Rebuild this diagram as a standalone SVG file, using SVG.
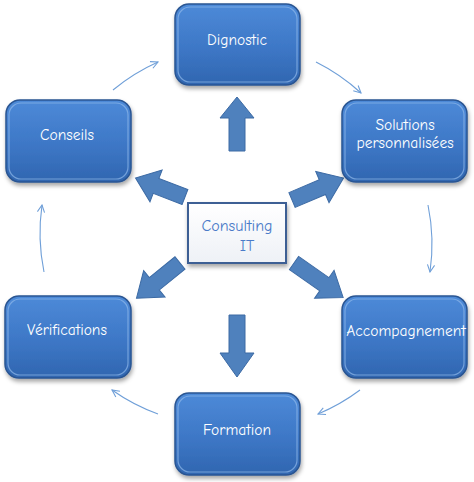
<svg xmlns="http://www.w3.org/2000/svg" width="474" height="482" viewBox="0 0 474 482">
<defs>
<linearGradient id="g" x1="0" y1="0" x2="0" y2="1">
<stop offset="0" stop-color="#4d8ad8"/>
<stop offset="0.55" stop-color="#3d77c6"/>
<stop offset="1" stop-color="#3066b0"/>
</linearGradient>
<linearGradient id="w" x1="0" y1="0" x2="0" y2="1">
<stop offset="0" stop-color="#ffffff"/>
<stop offset="1" stop-color="#eef1f6"/>
</linearGradient>
<filter id="sh" x="-10%" y="-10%" width="125%" height="130%">
<feDropShadow dx="1" dy="3" stdDeviation="2" flood-color="#000" flood-opacity="0.35"/>
</filter>
<marker id="ah" viewBox="0 0 10 10" refX="9" refY="5" markerWidth="9" markerHeight="9" orient="auto" markerUnits="userSpaceOnUse">
<path d="M1,1 L9,5 L1,9" fill="none" stroke="#6f9fd8" stroke-width="1.2"/>
</marker>
</defs>
<style>
.n rect{fill:url(#g);stroke:#2a5592;stroke-width:1.5;filter:url(#sh)}
.n .hl{fill:none;stroke:#8fb8ea;stroke-width:1.2;stroke-opacity:0.7;filter:none}
.n text{fill:#fff;font-family:"Comic Sans MS","Comic Neue","DejaVu Sans",sans-serif;font-size:15.5px;text-anchor:middle}
.c{fill:none;stroke:#6f9fd8;stroke-width:1.1;marker-end:url(#ah)}
.b{fill:#4f81bd;stroke:#3c6aa4;stroke-width:1}
.ct{font-family:"Comic Sans MS","Comic Neue","DejaVu Sans",sans-serif;font-size:16px;fill:#4a7bc8;text-anchor:middle}
</style>
<g id="connectors">
<path class="c" d="M113,90 A195,195 0 0 1 158,62"/>
<path class="c" d="M316,62 A195,195 0 0 1 361,93"/>
<path class="c" d="M428,205 A195,195 0 0 1 430,272"/>
<path class="c" d="M360,390 A195,195 0 0 1 318,414"/>
<path class="c" d="M158,414 A195,195 0 0 1 112,390"/>
<path class="c" d="M44,272 A195,195 0 0 1 42,205"/>
<path class="b" transform="translate(237,151) rotate(-90)" d="M0,-8 L33,-8 L33,-17 L54,0 L33,17 L33,8 L0,8 Z"/>
<path class="b" transform="translate(237,315) rotate(90)" d="M0,-8 L38,-8 L38,-17 L62,0 L38,17 L38,8 L0,8 Z"/>
<path class="b" transform="translate(185,197) rotate(-159)" d="M0,-8 L31,-8 L31,-17 L53,0 L31,17 L31,8 L0,8 Z"/>
<path class="b" transform="translate(292,200) rotate(-23)" d="M0,-8 L33,-8 L33,-17 L56,0 L33,17 L33,8 L0,8 Z"/>
<path class="b" transform="translate(180,263) rotate(141)" d="M0,-8 L33,-8 L33,-17 L56,0 L33,17 L33,8 L0,8 Z"/>
<path class="b" transform="translate(294,263) rotate(35)" d="M0,-8 L37,-8 L37,-17 L60,0 L37,17 L37,8 L0,8 Z"/>
</g>
<g id="center">
<rect x="188" y="203" width="98" height="60" fill="url(#w)" stroke="#3c5f94" stroke-width="2" filter="url(#sh)"/>
<text class="ct" x="237" y="231">Consulting</text>
<text class="ct" x="247" y="251">IT</text>
</g>
<g id="dignostic" class="n">
<rect x="175" y="4" width="125" height="81" rx="14"/>
<rect class="hl" x="178" y="7" width="119" height="75" rx="12"/>
<text x="237" y="45">Dignostic</text>
</g>
<g id="solutions" class="n">
<rect x="342" y="100" width="125" height="82" rx="14"/>
<rect class="hl" x="345" y="103" width="119" height="76" rx="12"/>
<text x="405" y="130">Solutions</text>
<text x="405" y="148">personnalisées</text>
</g>
<g id="accompagnement" class="n">
<rect x="342" y="296" width="125" height="82" rx="14"/>
<rect class="hl" x="345" y="299" width="119" height="76" rx="12"/>
<text x="406" y="336">Accompagnement</text>
</g>
<g id="formation" class="n">
<rect x="175" y="393" width="125" height="82" rx="14"/>
<rect class="hl" x="178" y="396" width="119" height="76" rx="12"/>
<text x="237" y="435">Formation</text>
</g>
<g id="verifications" class="n">
<rect x="5" y="296" width="126" height="82" rx="14"/>
<rect class="hl" x="8" y="299" width="120" height="76" rx="12"/>
<text x="67" y="335">Vérifications</text>
</g>
<g id="conseils" class="n">
<rect x="6" y="100" width="125" height="82" rx="14"/>
<rect class="hl" x="9" y="103" width="119" height="76" rx="12"/>
<text x="67" y="140">Conseils</text>
</g>
</svg>
